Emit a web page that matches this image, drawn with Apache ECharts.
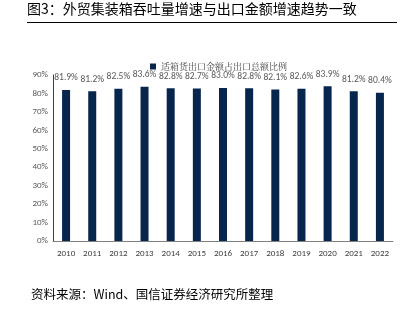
<!DOCTYPE html>
<html><head><meta charset="utf-8">
<script src="https://cdn.jsdelivr.net/npm/echarts@6/dist/echarts.min.js"></script>
<style>html,body{margin:0;padding:0;background:#fff}#c{width:415px;height:322px}</style>
</head><body><div id="c"></div>
<script>
const categories = ['2010','2011','2012','2013','2014','2015','2016','2017','2018','2019','2020','2021','2022'];
const values = [81.9,81.2,82.5,83.6,82.8,82.7,83.0,82.8,82.1,82.6,83.9,81.2,80.4];
const seriesName = '适箱货出口金额占出口总额比例';
const yTicks = [0,10,20,30,40,50,60,70,80,90];
const titleText = '图3：外贸集装箱吞吐量增速与出口金额增速趋势一致';
const sourceText = '资料来源：Wind、国信证券经济研究所整理';

const chart = echarts.init(document.getElementById('c'), null, {renderer:'canvas'});
chart.setOption({
  animation:false,
  backgroundColor:'#fff',
  title:[
    {text:titleText,left:27,top:2,padding:0,textStyle:{fontFamily:'Noto Sans CJK SC',fontSize:14,fontWeight:'normal',color:'#000'}},
    {text:sourceText,left:26,top:283,textStyle:{fontFamily:'Noto Sans CJK SC',fontSize:12.5,fontWeight:'normal',color:'#000'}}
  ],
  graphic:{elements:[{type:'rect',left:27,top:22,shape:{width:370,height:1},style:{fill:'#000'},z:100}]},
  legend:{top:57,left:145,itemWidth:6,itemHeight:6,itemGap:4,icon:'rect',
    textStyle:{fontFamily:'Noto Serif CJK SC, Noto Sans CJK SC',fontSize:9,color:'#444'},
    data:[seriesName]},
  grid:{left:53,right:22,top:75,bottom:81,containLabel:false},
  xAxis:{type:'category',data:categories,
    axisLine:{lineStyle:{color:'#808080'}},axisTick:{show:false},
    axisLabel:{fontFamily:'Calibri, Liberation Sans, Arial',fontSize:9,color:'#404040',margin:8}},
  yAxis:{type:'value',min:0,max:90,interval:10,
    axisLine:{show:true,lineStyle:{color:'#404040'}},axisTick:{show:false},splitLine:{show:false},
    axisLabel:{formatter:v=>yTicks.includes(v)?v+'%':'',fontFamily:'Calibri, Liberation Sans, Arial',fontSize:9,color:'#595959',margin:5}},
  series:[{name:seriesName,type:'bar',data:values,barWidth:8,
    itemStyle:{color:'#07264d'},
    label:{show:true,position:'top',distance:7,formatter:p=>p.value.toFixed(1)+'%',
      fontFamily:'Calibri, Liberation Sans, Arial',fontSize:9.5,color:'#595959'}}]
});
</script></body></html>
